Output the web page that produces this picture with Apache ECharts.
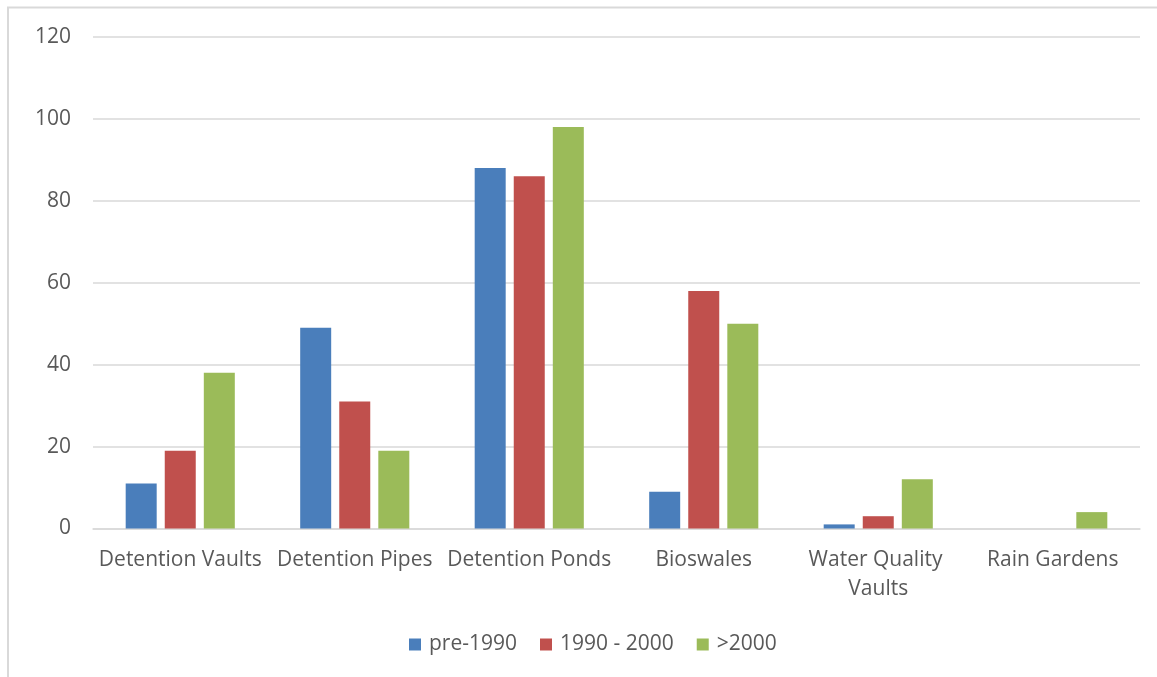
<!DOCTYPE html>
<html>
<head>
<meta charset="utf-8">
<script src="https://cdn.jsdelivr.net/npm/echarts@6/dist/echarts.min.js"></script>
<style>
html,body{margin:0;padding:0;background:#fff;}
#c{width:1157px;height:677px;}
</style>
</head>
<body>
<div id="c"></div>
<script>
const categories = ['Detention Vaults', 'Detention Pipes', 'Detention Ponds', 'Bioswales', 'Water Quality Vaults', 'Rain Gardens'];
const seriesNames = ['pre-1990', '1990 - 2000', '>2000'];
const pre1990 = [11, 49, 88, 9, 1, 0];
const y1990to2000 = [19, 31, 86, 58, 3, 0];
const after2000 = [38, 19, 98, 50, 12, 4];
const colors = ['#4a7ebb', '#c0504d', '#9bbb59'];
const yMin = 0, yMax = 120, yInterval = 20;

const chart = echarts.init(document.getElementById('c'), null, {renderer: 'canvas'});
const font = '"Open Sans", "Noto Sans", sans-serif';
const dataSets = [pre1990, y1990to2000, after2000];

chart.setOption({
  animation: false,
  backgroundColor: '#fff',
  textStyle: {fontFamily: font},
  graphic: [{
    type: 'rect',
    silent: true,
    shape: {x: 8, y: 7.5, width: 1400, height: 900},
    style: {fill: 'none', stroke: '#d9d9d9', lineWidth: 2}
  }],
  grid: {left: 93, right: 17, top: 37, bottom: 148.5},
  legend: {
    data: seriesNames,
    left: 404,
    top: 629,
    icon: 'rect',
    itemWidth: 12,
    itemHeight: 12,
    itemGap: 23,
    textStyle: {fontSize: 21, color: '#595959', fontFamily: font, padding: [0, 0, 0, 3]}
  },
  xAxis: {
    type: 'category',
    data: categories,
    axisLine: {lineStyle: {color: '#d9d9d9', width: 1.5}},
    axisTick: {show: false},
    axisLabel: {
      fontSize: 21, color: '#595959', fontFamily: font, margin: 17,
      lineHeight: 29, interval: 0, width: 172, overflow: 'break'
    }
  },
  yAxis: {
    type: 'value',
    min: yMin, max: yMax, interval: yInterval,
    axisLine: {show: false},
    axisTick: {show: false},
    splitLine: {lineStyle: {color: '#d9d9d9', width: 1.5}},
    axisLabel: {fontSize: 21, color: '#595959', fontFamily: font, margin: 22}
  },
  series: seriesNames.map((n, i) => ({
    name: n,
    type: 'bar',
    data: dataSets[i],
    barWidth: 31,
    barGap: '26%',
    itemStyle: {color: colors[i]}
  }))
});
</script>
</body>
</html>
